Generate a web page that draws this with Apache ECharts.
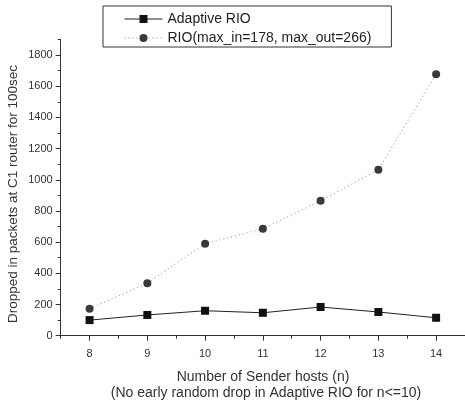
<!DOCTYPE html>
<html><head><meta charset="utf-8">
<script src="https://cdn.jsdelivr.net/npm/echarts@6/dist/echarts.min.js"></script>
<style>html,body{margin:0;padding:0;background:#fff}#c{width:465px;height:407px}</style>
</head><body><div id="c"></div>
<script>
const hosts = [8, 9, 10, 11, 12, 13, 14];
const adaptiveRio = [100, 133, 160, 147, 184, 152, 115];
const rio = [173, 336, 590, 686, 865, 1064, 1677];
const yTicks = [0, 200, 400, 600, 800, 1000, 1200, 1400, 1600, 1800];
const xMinorTicks = [7.5, 8.5, 9.5, 10.5, 11.5, 12.5, 13.5, 14.5];
const yMinorTicks = [100, 300, 500, 700, 900, 1100, 1300, 1500, 1700, 1900];

const chart = echarts.init(document.getElementById('c'), null, {renderer: 'canvas'});
const FONT = 'Liberation Sans, Arial, sans-serif';
const AX = '#333';
chart.setOption({
  animation: false,
  backgroundColor: '#fff',
  grid: {left: 60.7, right: -1.3, top: 39.4, bottom: 71.3, containLabel: false},
  legend: {
    orient: 'vertical', left: 103, top: 6,
    padding: [6, 20, 2, 21], itemGap: 5,
    itemWidth: 38, itemHeight: 10,
    borderColor: '#333', borderWidth: 1,
    lineStyle: {width: 1},
    textStyle: {fontFamily: FONT, fontSize: 14, color: '#222'},
    data: ['Adaptive RIO', 'RIO(max_in=178, max_out=266)']
  },
  xAxis: [{
    type: 'value', min: 7.5, max: 14.5,
    axisLine: {lineStyle: {color: AX, width: 1}},
    axisTick: {show: true, length: 5, customValues: hosts, lineStyle: {color: AX}},
    axisLabel: {customValues: hosts, fontFamily: FONT, fontSize: 11, color: '#333', margin: 13},
    splitLine: {show: false}
  }, {
    type: 'value', min: 7.5, max: 14.5, position: 'bottom',
    axisLine: {show: false},
    axisTick: {show: true, length: 3, customValues: xMinorTicks, lineStyle: {color: AX}},
    axisLabel: {show: false},
    splitLine: {show: false}
  }],
  yAxis: [{
    type: 'value', min: 0, max: 1900,
    axisLine: {show: true, lineStyle: {color: AX, width: 1}},
    axisTick: {show: true, length: 5, customValues: yTicks, lineStyle: {color: AX}},
    axisLabel: {customValues: yTicks, formatter: v => String(v), fontFamily: FONT, fontSize: 11, color: '#333', margin: 8},
    splitLine: {show: false}
  }, {
    type: 'value', min: 0, max: 1900, position: 'left',
    axisLine: {show: false},
    axisTick: {show: true, length: 3, customValues: yMinorTicks, lineStyle: {color: AX}},
    axisLabel: {show: false},
    splitLine: {show: false}
  }],
  graphic: [
    {type: 'text', x: 13.5, y: 194, rotation: Math.PI / 2,
     style: {text: 'Dropped in packets at C1 router for 100sec', font: '13.5px ' + FONT, fill: '#333',
             textAlign: 'center', textVerticalAlign: 'middle'}},
    {type: 'text', x: 263, y: 377,
     style: {text: 'Number of Sender hosts (n)', font: '14px ' + FONT, fill: '#333',
             textAlign: 'center', textVerticalAlign: 'middle'}},
    {type: 'text', x: 266, y: 393,
     style: {text: '(No early random drop in Adaptive RIO for n<=10)', font: '14px ' + FONT, fill: '#333',
             textAlign: 'center', textVerticalAlign: 'middle'}}
  ],
  series: [{
    name: 'Adaptive RIO', type: 'line',
    data: hosts.map((h, i) => [h, adaptiveRio[i]]),
    symbol: 'rect', symbolSize: 8,
    lineStyle: {color: '#222', width: 1, type: 'solid'},
    itemStyle: {color: '#111'}
  }, {
    name: 'RIO(max_in=178, max_out=266)', type: 'line',
    data: hosts.map((h, i) => [h, rio[i]]),
    symbol: 'circle', symbolSize: 8,
    lineStyle: {color: '#888', width: 1, type: [1, 3]},
    itemStyle: {color: '#3a3a3a'}
  }]
});
</script></body></html>
